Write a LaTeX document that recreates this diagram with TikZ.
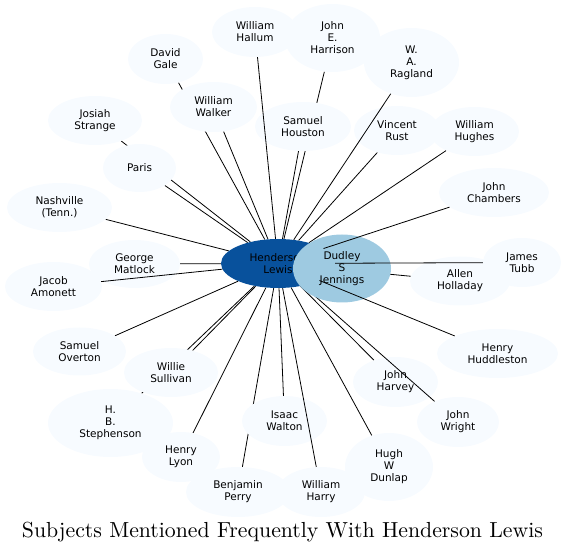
\documentclass[tikz,border=0pt]{standalone}
\usepackage{fontspec}
\newfontfamily\nodefont{DejaVu Sans}
\usetikzlibrary{shapes.geometric}
\pgfdeclarelayer{bg}
\pgfsetlayers{bg,main}
\definecolor{nodefill}{HTML}{F7FBFF}
\definecolor{hlfill}{HTML}{08519C}
\definecolor{dsjfill}{HTML}{9ECAE1}
\tikzset{
  ent/.style 2 args={ellipse, fill=nodefill, inner sep=0pt, align=center,
    font=\nodefont\fontsize{10.5}{12}\selectfont, text=black,
    minimum width=#1, minimum height=#2},
  link/.style={draw=black, line width=0.8pt},
}
\begin{document}
\begin{tikzpicture}[x=1pt,y=-1pt]
\useasboundingbox (0,0) rectangle (566,553);
% nodes
\node[ent={86pt}{50pt}] (whal) at (255,32) {William\\Hallum};
\node[ent={95pt}{68pt}] (jeh) at (332.5,38) {John\\E.\\Harrison};
\node[ent={95pt}{69pt}] (war) at (411.5,62.5) {W.\\A.\\Ragland};
\node[ent={75pt}{50pt}] (dg) at (165.5,59) {David\\Gale};
\node[ent={87pt}{50pt}] (ww) at (213.5,107) {William\\Walker};
\node[ent={96pt}{49pt}] (sh) at (303,126.5) {Samuel\\Houston};
\node[ent={86pt}{49pt}] (vr) at (397,130.5) {Vincent\\Rust};
\node[ent={89pt}{49pt}] (whu) at (474.5,131.5) {William\\Hughes};
\node[ent={94pt}{49pt}] (js) at (95,120.5) {Josiah\\Strange};
\node[ent={73pt}{48pt}] (par) at (139.5,168) {Paris};
\node[ent={110pt}{49pt}] (jc) at (494,192.5) {John\\Chambers};
\node[ent={105pt}{49pt}] (nash) at (59.5,207.5) {Nashville\\(Tenn.)};
\node[ent={91pt}{48pt}] (gm) at (134.5,264) {George\\Matlock};
\node[ent={97pt}{49pt}] (ja) at (53.5,286.5) {Jacob\\Amonett};
\node[ent={114pt}{49pt}, fill=hlfill] (hl) at (278,263.5) {Henderson\\Lewis};
\node[ent={78pt}{49pt}] (jt) at (522,262.5) {James\\Tubb};
\node[ent={100pt}{49pt}] (ah) at (460,281) {Allen\\Holladay};
\node[ent={121pt}{49pt}] (hh) at (497.5,353.5) {Henry\\Huddleston};
\node[ent={93pt}{48pt}] (so) at (79.5,351.5) {Samuel\\Overton};
\node[ent={94pt}{49pt}] (ws) at (171,372.5) {Willie\\Sullivan};
\node[ent={125pt}{68pt}] (hbs) at (110.5,423) {H.\\B.\\Stephenson};
\node[ent={85pt}{50pt}] (jh) at (395.5,382) {John\\Harvey};
\node[ent={82pt}{50pt}] (jw) at (458,422) {John\\Wright};
\node[ent={85pt}{50pt}] (iw) at (284.5,421) {Isaac\\Walton};
\node[ent={78pt}{50pt}] (hly) at (181,457) {Henry\\Lyon};
\node[ent={88pt}{68pt}] (hwd) at (389,467) {Hugh\\W\\Dunlap};
\node[ent={104pt}{50pt}] (bp) at (238,492) {Benjamin\\Perry};
\node[ent={88pt}{50pt}] (wha) at (321,492) {William\\Harry};
% edges drawn over some nodes
\draw[link] (hl) -- (whal);
\draw[link] (hl) -- (war);
\draw[link] (hl) -- (jw);
\draw[link] (hl) -- (ja);
\draw[link] (hl) -- (wha);
% Dudley S Jennings over Henderson Lewis
\node[ent={98pt}{68pt}, fill=dsjfill] (dsj) at (342,268.5) {Dudley\\S\\Jennings};
% edges drawn over Dudley S Jennings
\draw[link] (hl) -- (jc);
\draw[link] (hl) -- (jt);
\draw[link] (hl) -- (hh);
% edges beneath nodes
\begin{pgfonlayer}{bg}
\foreach \t in {jeh,dg,ww,sh,vr,whu,js,par,nash,gm,ah,so,ws,hbs,jh,iw,hly,hwd,bp}
  \draw[link] (hl) -- (\t);
\end{pgfonlayer}
% title
\node[anchor=base, inner sep=0pt] (title) at (282.5,537.5)
  {\resizebox{521pt}{!}{\fontsize{10}{12}\selectfont Subjects Mentioned Frequently With Henderson Lewis}};
\end{tikzpicture}
\end{document}
